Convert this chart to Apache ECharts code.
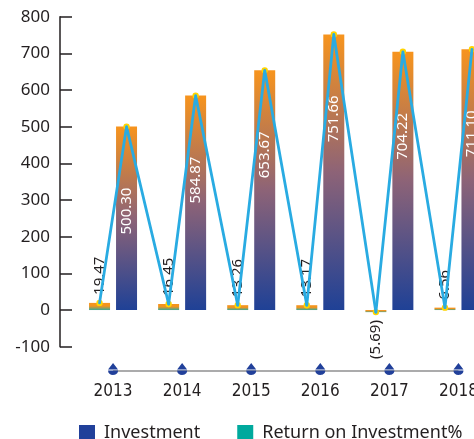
<!DOCTYPE html>
<html>
<head>
<meta charset="utf-8">
<script src="https://cdn.jsdelivr.net/npm/echarts@6/dist/echarts.min.js"></script>
<style>
html,body{margin:0;padding:0;background:#fff;overflow:hidden;width:474px;height:439px;}
#chart{width:493px;height:439px;}
</style>
</head>
<body>
<div id="chart"></div>
<script>
const years = ['2013', '2014', '2015', '2016', '2017', '2018'];
const investment = [500.30, 584.87, 653.67, 751.66, 704.22, 711.10];
const roi = [19.47, 16.45, 13.26, 13.17, -5.69, 6.56];
const yMin = -100, yMax = 800, yStep = 100;

const BAR_W = 21;
const BAR_GAP_PX = 6;
const FONT = "'Noto Sans', 'Open Sans', sans-serif";
const NARROW = "'Liberation Sans Narrow', 'DejaVu Sans Condensed', 'Noto Sans', sans-serif";
const TXT = '#231f20';

const chart = echarts.init(document.getElementById('chart'), null, {renderer: 'canvas'});

const bigGrad = new echarts.graphic.LinearGradient(0, 0, 0, 1, [
  {offset: 0, color: '#f7941d'},
  {offset: 0.5, color: '#8d6377'},
  {offset: 1, color: '#1f4196'}
]);
const smallGrad = new echarts.graphic.LinearGradient(0, 0, 0, 1, [
  {offset: 0, color: '#f7941d'},
  {offset: 0.45, color: '#f0941f'},
  {offset: 1, color: '#3aa898'}
]);

const zigData = years.map((y, i) => [i, roi[i], investment[i], i + 1 < years.length ? roi[i + 1] : NaN]);

const option = {
  animation: false,
  textStyle: {fontFamily: FONT},
  legend: {
    left: 74, top: 419, width: 460,
    itemWidth: 16, itemHeight: 16, itemGap: 37,
    icon: 'rect',
    selectedMode: false,
    textStyle: {fontSize: 18, color: TXT, fontFamily: FONT, padding: [0, 0, 0, 4]},
    data: [
      {name: 'Investment', itemStyle: {color: '#21409a'}},
      {name: 'Return on Investment%', itemStyle: {color: '#00a99d'}}
    ]
  },
  grid: [
    {left: 78.5, right: 0, top: 16.7, bottom: 92.3},
    {left: 78.5, right: 0, top: 366, height: 10}
  ],
  xAxis: [
    {type: 'category', gridIndex: 0, data: years, boundaryGap: true,
     axisLine: {show: false}, axisTick: {show: false}, axisLabel: {show: false}, splitLine: {show: false}},
    {type: 'category', gridIndex: 1, data: years, boundaryGap: true,
     axisLine: {show: false}, axisTick: {show: false},
     axisLabel: {show: true, fontSize: 17, color: TXT, fontFamily: NARROW, margin: 7}}
  ],
  yAxis: [
    {type: 'value', gridIndex: 0, min: yMin, max: yMax, interval: yStep, offset: 18.5,
     axisLine: {show: true, lineStyle: {color: TXT, width: 1.5}},
     axisTick: {show: true, inside: true, length: 12, lineStyle: {color: TXT, width: 1.5}},
     axisLabel: {fontSize: 17, color: TXT, margin: 10, fontFamily: FONT},
     splitLine: {show: false}},
    {type: 'value', gridIndex: 1, min: 0, max: 2, show: false}
  ],
  series: [
    {
      name: 'Return on Investment%', type: 'bar', xAxisIndex: 0, yAxisIndex: 0,
      barWidth: BAR_W, barGap: (BAR_GAP_PX / BAR_W * 100).toFixed(2) + '%',
      itemStyle: {color: smallGrad},
      data: roi.map(v => ({value: v, label: {align: v < 0 ? 'right' : 'left'}})),
      label: {
        show: true, position: 'outside', rotate: 90, distance: 8,
        verticalAlign: 'middle', fontSize: 15, color: TXT, fontFamily: FONT,
        formatter: p => p.value < 0 ? '(' + Math.abs(p.value).toFixed(2) + ')' : p.value.toFixed(2)
      },
      z: 2
    },
    {
      name: 'Investment', type: 'bar', xAxisIndex: 0, yAxisIndex: 0,
      barWidth: BAR_W,
      itemStyle: {color: bigGrad},
      data: investment,
      label: {
        show: true, position: 'insideTop', rotate: 90, distance: 61,
        align: 'right', verticalAlign: 'middle',
        fontSize: 15, color: '#ffffff', fontFamily: FONT,
        formatter: p => p.value.toFixed(2)
      },
      z: 2
    },
    {
      name: 'zigzag', type: 'custom', xAxisIndex: 0, yAxisIndex: 0,
      data: zigData, encode: {x: 0, y: 1}, clip: false, silent: true, z: 3,
      renderItem: function (params, api) {
        const i = api.value(0);
        const cx = api.coord([i, 0])[0];
        const off = (BAR_W + BAR_GAP_PX) / 2;
        const pts = [
          [cx - off, api.coord([i, api.value(1)])[1]],
          [cx + off, api.coord([i, api.value(2)])[1]]
        ];
        const nxt = api.value(3);
        if (nxt !== null && nxt !== undefined && !isNaN(nxt)) {
          const c2 = api.coord([i + 1, nxt]);
          pts.push([c2[0] - off, c2[1]]);
        }
        return {
          type: 'group',
          children: [
            {type: 'circle', z2: 1, shape: {cx: pts[0][0], cy: pts[0][1], r: 3.2}, style: {fill: '#ffd400'}},
            {type: 'circle', z2: 1, shape: {cx: pts[1][0], cy: pts[1][1], r: 3.2}, style: {fill: '#ffd400'}},
            {type: 'polyline', z2: 10, shape: {points: pts}, style: {stroke: '#29abe2', lineWidth: 2.8, fill: null, lineJoin: 'round', lineCap: 'round'}}
          ]
        };
      }
    },
    {
      name: 'axisDecor', type: 'line', xAxisIndex: 1, yAxisIndex: 1,
      data: years.map(() => 1), silent: true,
      symbol: 'path://M5,0 L10,6.5 L0,6.5 Z M0,7.6 L10,7.6 C10,10.6 7.8,12 5,12 C2.2,12 0,10.6 0,7.6 Z',
      symbolSize: [10, 12], symbolOffset: [0, -2], showSymbol: true,
      itemStyle: {color: '#21409a'},
      lineStyle: {color: '#58595b', width: 1.2},
      z: 2
    }
  ]
};
chart.setOption(option);
</script>
</body>
</html>
